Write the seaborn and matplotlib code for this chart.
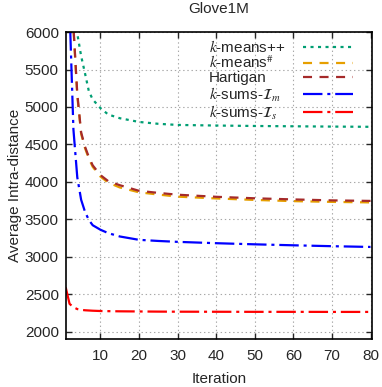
import pandas as pd
import matplotlib
matplotlib.use('Agg')
import matplotlib.pyplot as plt
import seaborn as sns

sns.set_style('ticks')
plt.rcParams['font.family'] = ['Liberation Sans', 'DejaVu Sans']
plt.rcParams['mathtext.fontset'] = 'stix'
plt.rcParams['lines.scale_dashes'] = False

# Data
iterations = [1, 2, 3, 4, 5, 6, 7, 8, 10, 12, 15, 20, 25, 30, 40, 50, 60, 70, 80]
kmeanspp = [9500, 7600, 6500, 5980, 5680, 5450, 5210, 5100, 4985, 4900, 4850,
            4800, 4775, 4760, 4752, 4746, 4742, 4738, 4735]
kmeans_sharp = [9000, 7000, 6050, 5150, 4640, 4450, 4310, 4200, 4070, 3990, 3925,
                3860, 3830, 3802, 3778, 3758, 3742, 3732, 3725]
hartigan = [9000, 7000, 6080, 5180, 4660, 4470, 4330, 4220, 4090, 4010, 3955,
            3880, 3852, 3828, 3800, 3780, 3765, 3752, 3745]
ksums_m = [9000, 6300, 4700, 4060, 3760, 3600, 3490, 3420, 3360, 3315, 3270,
           3225, 3210, 3198, 3180, 3165, 3152, 3140, 3130]
ksums_s = [2590, 2370, 2325, 2300, 2290, 2284, 2281, 2278, 2274, 2272, 2270,
           2268, 2266, 2265, 2264, 2263, 2263, 2262, 2262]

labels = [r'$k$-means++', r'$k$-means$^{\#}$', 'Hartigan',
          r'$k$-sums-$\mathcal{I}_m$', r'$k$-sums-$\mathcal{I}_s$']
series = [kmeanspp, kmeans_sharp, hartigan, ksums_m, ksums_s]
colors = ['#009e73', '#e69f00', '#a52a2a', '#0000ff', '#ff0000']
dashes = [(2.2, 3.2), (6.5, 5.4), (6.5, 5.4), (14, 3.5, 2.2, 3.5), (14, 3.5, 2.2, 3.5)]

rows = []
for lab, vals in zip(labels, series):
    for it, v in zip(iterations, vals):
        rows.append({'Iteration': it, 'value': v, 'method': lab})
df = pd.DataFrame(rows)

fig, ax = plt.subplots(figsize=(3.82, 3.87), dpi=100)
fig.subplots_adjust(left=0.172, right=0.974, top=0.917, bottom=0.124)

sns.lineplot(data=df, x='Iteration', y='value', hue='method', style='method',
             hue_order=labels, style_order=labels,
             palette=dict(zip(labels, colors)), dashes=dict(zip(labels, dashes)),
             linewidth=1.6, legend=False, ax=ax)

ax.set_xlim(1, 80.4)
ax.set_ylim(1900, 6000)
ax.set_xticks(range(10, 81, 10))
ax.set_yticks(range(2000, 6001, 500))
ax.grid(color='#a8a8a8', linestyle=(0, (1, 2)), linewidth=0.8)
ax.tick_params(direction='in', length=4.5, width=1, top=True, right=True,
               labelsize=11)
ax.tick_params(axis='x', pad=7)
ax.tick_params(axis='y', pad=5)
for s in ax.spines.values():
    s.set_linewidth(1.2)
    s.set_color('black')

ax.set_xlabel('Iteration', fontsize=11, labelpad=7)
ax.set_ylabel('Average Intra-distance', fontsize=11, labelpad=2)
ax.set_title('Glove1M', fontsize=11, pad=14)

# legend: handles on the right (labels hidden), labels left aligned in a second legend
handles = ax.lines[:5]
top = 0.978
leg1 = ax.legend(handles, labels, loc='upper right', frameon=False, fontsize=11,
                 markerfirst=False, handlelength=3.3, labelspacing=0.0,
                 handletextpad=1.0, borderpad=0, borderaxespad=0,
                 bbox_to_anchor=(0.938, top))
for t in leg1.get_texts():
    t.set_visible(False)
ax.add_artist(leg1)
leg2 = ax.legend(handles, labels, loc='upper left', frameon=False, fontsize=11,
                 handlelength=0, handletextpad=0, labelspacing=0.0,
                 borderpad=0, borderaxespad=0, bbox_to_anchor=(0.468, top))
for h in leg2.legend_handles:
    h.set_visible(False)

plt.savefig('out.png', dpi=100)
